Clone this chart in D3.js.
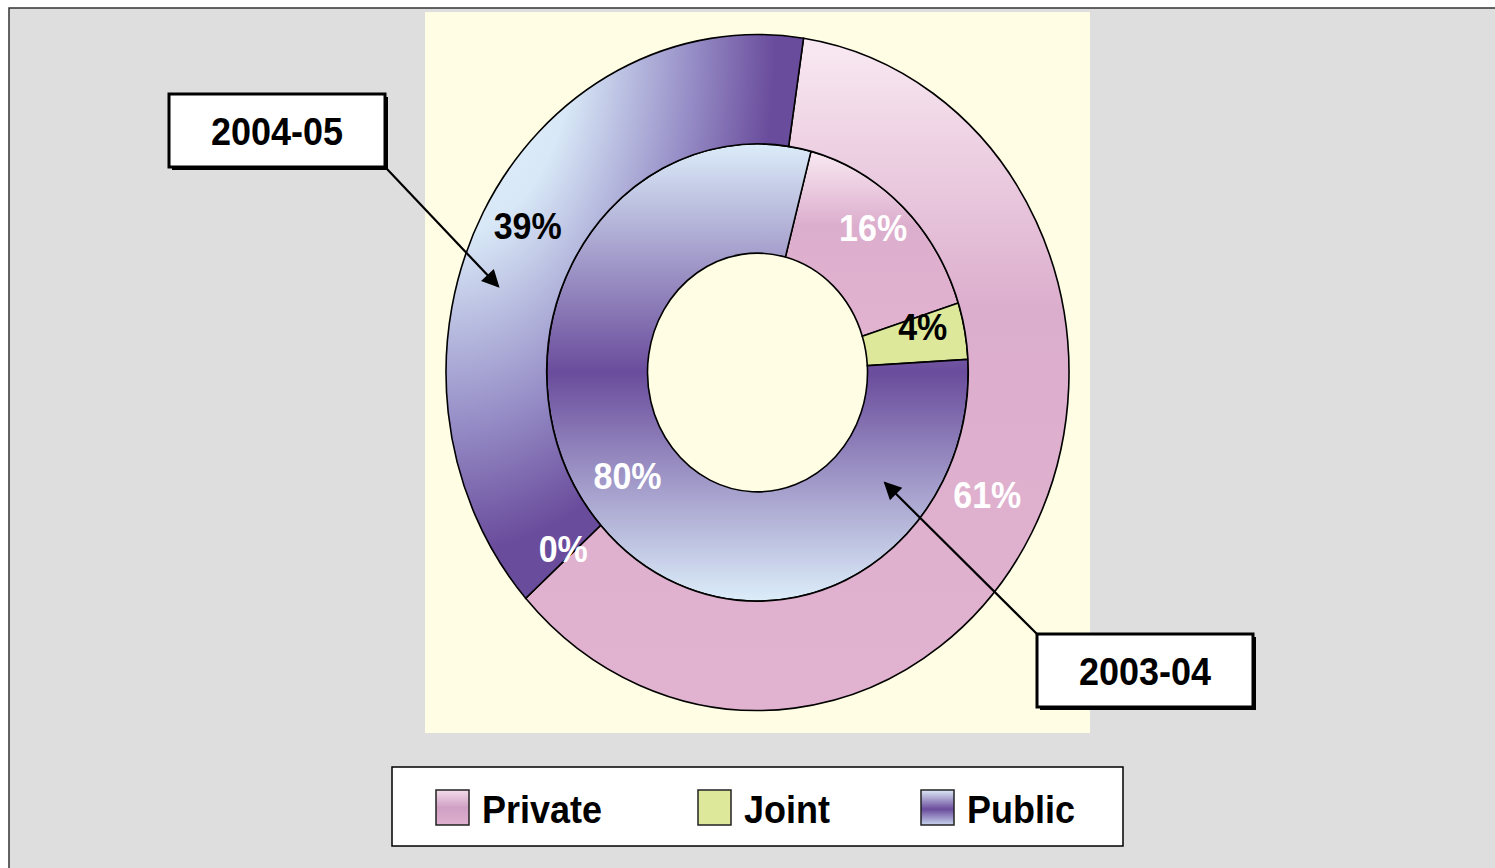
<!DOCTYPE html>
<html>
<head>
<meta charset="utf-8">
<script src="https://cdn.jsdelivr.net/npm/d3@7"></script>
<style>
  html, body { margin: 0; padding: 0; background: #fff; }
  svg { display: block; font-family: "Liberation Sans", Arial, sans-serif; font-weight: bold; }
</style>
</head>
<body>
<svg id="chart" width="1495" height="868"></svg>
<script>
// data
var categories = ["Private", "Joint", "Public"];
var years = ["2003-04", "2004-05"];
var values2003 = [16, 4, 80];   // inner ring
var values2004 = [61, 0, 39];   // outer ring

doughnutChart();

function doughnutChart() {

    var svg = d3.select("#chart"),
        cx = 757.5, cy = 372.5,
        stretch = 1.085,               // the picture is a bit taller than wide
        hole = 110, ringW = 100.75;

    var defs = svg.append("defs");

    function linear(id, stops) {
        var g = defs.append("linearGradient").attr("id", id)
            .attr("x1", 0).attr("y1", 0).attr("x2", 0).attr("y2", 1);
        stops.forEach(function (s) {
            g.append("stop").attr("offset", s[0]).attr("stop-color", s[1]);
        });
    }
    linear("privGrad", [[0, "#f9e9f2"], [0.4, "#dcaecd"], [1, "#e2b3d0"]]);
    linear("pubGrad", [[0, "#dcecf9"], [0.5, "#6a4c9c"], [1, "#dcedf9"]]);
    linear("legPriv", [[0, "#f4dcea"], [0.5, "#cfa0c4"], [1, "#e0b0cf"]]);
    linear("legPub", [[0, "#dde9f7"], [0.55, "#6a4c9c"], [1, "#c8d4ee"]]);

    var rg = defs.append("radialGradient").attr("id", "pubOuterGrad")
        .attr("cx", 0).attr("cy", 0).attr("fx", 0).attr("fy", 0).attr("r", 1);
    [[0, "#e4f2fc"], [0.36, "#d8e8f7"], [0.68, "#9890c8"], [0.92, "#6a4c9c"]].forEach(function (s) {
        rg.append("stop").attr("offset", s[0]).attr("stop-color", s[1]);
    });

    var marker = defs.append("marker").attr("id", "arrow")
        .attr("viewBox", "0 0 10 10").attr("refX", 9).attr("refY", 5)
        .attr("markerWidth", 9).attr("markerHeight", 8)
        .attr("markerUnits", "strokeWidth").attr("orient", "auto");
    marker.append("path").attr("d", "M0,0L10,5L0,10z").attr("fill", "#000");

    // frame and plot area
    svg.append("rect").attr("x", 9).attr("y", 8).attr("width", 1520).attr("height", 900)
        .attr("fill", "#dedede").attr("stroke", "#333").attr("stroke-width", 1.5);
    svg.append("rect").attr("x", 425).attr("y", 12).attr("width", 665).attr("height", 721)
        .attr("fill", "#fffde3");

    var fills = {
        inner: ["url(#privGrad)", "#dde89b", "url(#pubGrad)"],
        outer: ["url(#privGrad)", "#dde89b", "url(#pubOuterGrad)"]
    };

    var rings = [
        {name: "inner", values: values2003, r0: hole, r1: hole + ringW, start: 14.7, labelR: 168,
            labelColor: ["#fff", "#000", "#fff"]},
        {name: "outer", values: values2004, r0: hole + ringW, r1: hole + 2 * ringW, start: 8.5, labelR: 261,
            labelColor: ["#fff", "#fff", "#000"]}
    ];

    var g = svg.append("g")
        .attr("transform", "translate(" + cx + "," + cy + ") scale(1," + stretch + ")");

    var labels = [];

    rings.forEach(function (ring) {
        var a0 = ring.start * Math.PI / 180;
        var pie = d3.pie().sort(null).startAngle(a0).endAngle(a0 + 2 * Math.PI);
        var arc = d3.arc().innerRadius(ring.r0).outerRadius(ring.r1);
        var labelArc = d3.arc().innerRadius(ring.labelR).outerRadius(ring.labelR);
        var arcs = pie(ring.values);

        g.selectAll(".slice-" + ring.name)
            .data(arcs)
            .enter().append("path")
            .attr("class", "slice-" + ring.name)
            .attr("d", arc)
            .attr("fill", function (d, i) { return fills[ring.name][i]; })
            .attr("stroke", "#000")
            .attr("stroke-width", 1.6)
            .attr("vector-effect", "non-scaling-stroke");

        arcs.forEach(function (d, i) {
            var c = labelArc.centroid(d);
            labels.push({x: cx + c[0], y: cy + c[1] * stretch, text: d.value + "%", color: ring.labelColor[i]});
        });
    });

    // Excel sits the label text just above the slice centre
    svg.selectAll(".pct")
        .data(labels)
        .enter().append("text")
        .attr("class", "pct")
        .attr("transform", function (d) { return "translate(" + d.x + "," + d.y + ") scale(1,1.08)"; })
        .attr("text-anchor", "middle")
        .attr("dy", "0.02em")
        .attr("font-size", 34)
        .attr("fill", function (d) { return d.color; })
        .text(function (d) { return d.text; });

    // callouts naming the rings
    function ringPoint(r, deg) {
        var a = deg * Math.PI / 180;
        return [cx + r * Math.sin(a), cy - r * Math.cos(a) * stretch];
    }
    var callouts = [
        {text: years[1], x: 169, y: 94, from: [387, 169], to: ringPoint(271, 287)},
        {text: years[0], x: 1037, y: 634, from: [1037, 634], to: ringPoint(163, 128.6)}
    ];
    callouts.forEach(function (c) {
        svg.append("line")
            .attr("x1", c.from[0]).attr("y1", c.from[1])
            .attr("x2", c.to[0]).attr("y2", c.to[1])
            .attr("stroke", "#000").attr("stroke-width", 2.2)
            .attr("marker-end", "url(#arrow)");
        svg.append("rect").attr("x", c.x + 3).attr("y", c.y + 3).attr("width", 216).attr("height", 73)
            .attr("fill", "#000");
        svg.append("rect").attr("x", c.x).attr("y", c.y).attr("width", 216).attr("height", 73)
            .attr("fill", "#fff").attr("stroke", "#000").attr("stroke-width", 3);
        svg.append("text")
            .attr("transform", "translate(" + (c.x + 108) + "," + (c.y + 37) + ") scale(1,1.08)")
            .attr("text-anchor", "middle").attr("dy", "0.36em")
            .attr("font-size", 36).attr("fill", "#000")
            .text(c.text);
    });

    // legend
    var legend = svg.append("g").attr("transform", "translate(392,767)");
    legend.append("rect").attr("width", 731).attr("height", 79)
        .attr("fill", "#fff").attr("stroke", "#000").attr("stroke-width", 1.5);

    var legX = d3.scaleOrdinal().domain(categories).range([44, 306, 529]);
    var legFill = ["url(#legPriv)", "#dde89b", "url(#legPub)"];
    var item = legend.selectAll(".item")
        .data(categories)
        .enter().append("g")
        .attr("class", "item")
        .attr("transform", function (d) { return "translate(" + legX(d) + ",23)"; });
    item.append("rect").attr("width", 33).attr("height", 35)
        .attr("fill", function (d, i) { return legFill[i]; })
        .attr("stroke", "#222").attr("stroke-width", 1.5);
    item.append("text")
        .attr("transform", "translate(46,19) scale(1,1.08)")
        .attr("dy", "0.36em")
        .attr("font-size", 36).attr("fill", "#000")
        .text(function (d) { return d; });
}
</script>
</body>
</html>
